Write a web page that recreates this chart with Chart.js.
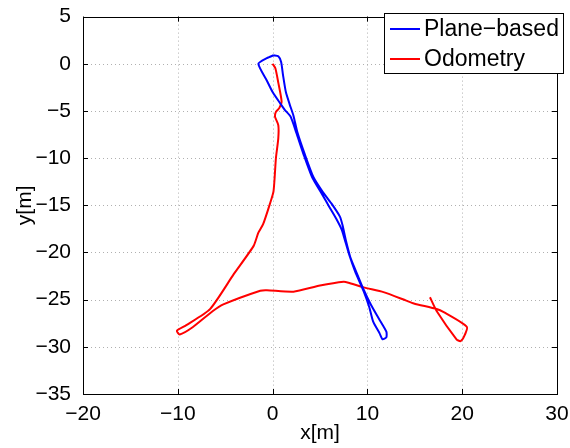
<!DOCTYPE html>
<html>
<head>
<meta charset="utf-8">
<script src="https://cdn.jsdelivr.net/npm/chart.js@4"></script>
<style>
  html, body { margin: 0; padding: 0; background: #fff; }
  canvas { display: block; }
</style>
</head>
<body>
<canvas id="chart" width="570" height="448"></canvas>
<script>
// Plane-based trajectory (blue)
const planeX = [0.1, 0.6, 0.9, 1.1, 1.4, 1.8, 2.2, 2.6, 3.4, 4.3, 5.3, 6.2, 7.1, 7.4, 7.7, 8.2, 8.8, 9.5, 10.4, 11.2, 12.0, 12.0, 11.6, 11.3, 10.6, 10.2, 9.6, 8.7, 8.1, 7.6, 7.3, 6.7, 6.0, 5.2, 4.2, 3.3, 2.5, 1.9, 1.3, 0.8, 0.0, -0.6, -1.5, -0.6, 0.1];
const planeY = [0.9, 0.8, 0.2, -1.2, -3.0, -4.3, -5.5, -7.2, -9.6, -12.0, -13.6, -14.8, -16.2, -17.2, -18.6, -20.5, -22.0, -23.7, -25.6, -27.0, -28.4, -29.0, -29.2, -28.6, -27.3, -25.8, -24.1, -22.0, -20.3, -18.6, -17.6, -16.4, -15.2, -13.8, -12.1, -9.7, -7.3, -5.6, -4.9, -4.2, -3.0, -1.8, 0.0, 0.6, 0.9];

// Odometry trajectory (red)
const odoX = [0.0, 0.3, 0.6, 0.95, 0.7, 0.35, 0.25, 0.6, 0.6, 0.35, 0.1, -0.3, -1.0, -1.5, -2.0, -4.1, -6.6, -9.1, -10.1, -9.8, -8.4, -6.3, -5.2, -1.3, -0.6, 2.2, 5.0, 7.5, 8.0, 9.6, 11.7, 14.1, 14.9, 17.3, 18.0, 20.5, 20.1, 19.8, 19.4, 17.3, 16.6];
const odoY = [0.0, -0.5, -2.0, -4.0, -4.7, -5.1, -5.6, -6.5, -7.9, -10.0, -13.5, -14.9, -17.0, -17.9, -19.3, -22.3, -26.0, -27.7, -28.3, -28.7, -27.9, -26.2, -25.5, -24.05, -24.0, -24.15, -23.5, -23.1, -23.2, -23.7, -24.2, -25.1, -25.4, -26.0, -26.3, -27.9, -29.1, -29.4, -29.2, -26.2, -24.75];

// Axis ticks
const xTicks = [-20, -10, 0, 10, 20, 30];
const yTicks = [5, 0, -5, -10, -15, -20, -25, -30, -35];

const seriesNames = ['Plane\u2212based', 'Odometry'];
const seriesColors = ['#0000ff', '#ff0000'];

const FONT = '"Liberation Sans", Arial, sans-serif';

function toPoints(xs, ys) {
    return xs.map((x, i) => ({ x: x, y: ys[i] }));
}

function fmt(v) {
    return v < 0 ? '\u2212' + Math.abs(v) : String(v);
}

// grid, box, inner tick marks, axis titles and legend, MATLAB style
const matlabFrame = {
    id: 'matlabFrame',
    beforeDatasetsDraw(chart) {
        const { ctx, chartArea: a, scales } = chart;
        ctx.save();
        ctx.strokeStyle = '#b0b0b0';
        ctx.lineWidth = 1;
        ctx.setLineDash([1, 3]);
        xTicks.forEach(v => {
            const px = Math.round(scales.x.getPixelForValue(v)) + 0.5;
            ctx.beginPath(); ctx.moveTo(px, a.top); ctx.lineTo(px, a.bottom); ctx.stroke();
        });
        yTicks.forEach(v => {
            const py = Math.round(scales.y.getPixelForValue(v)) + 0.5;
            ctx.beginPath(); ctx.moveTo(a.left, py); ctx.lineTo(a.right, py); ctx.stroke();
        });
        ctx.restore();
    },
    afterDatasetsDraw(chart) {
        const { ctx, chartArea: a, scales } = chart;
        ctx.save();
        ctx.strokeStyle = '#000';
        ctx.lineWidth = 1;
        ctx.setLineDash([]);
        ctx.strokeRect(Math.round(a.left) + 0.5, Math.round(a.top) + 0.5,
            Math.round(a.right - a.left), Math.round(a.bottom - a.top));
        const t = 5;
        ctx.beginPath();
        xTicks.forEach(v => {
            const px = Math.round(scales.x.getPixelForValue(v)) + 0.5;
            ctx.moveTo(px, a.bottom); ctx.lineTo(px, a.bottom - t);
            ctx.moveTo(px, a.top); ctx.lineTo(px, a.top + t);
        });
        yTicks.forEach(v => {
            const py = Math.round(scales.y.getPixelForValue(v)) + 0.5;
            ctx.moveTo(a.left, py); ctx.lineTo(a.left + t, py);
            ctx.moveTo(a.right, py); ctx.lineTo(a.right - t, py);
        });
        ctx.stroke();

        // axis titles
        ctx.fillStyle = '#000';
        ctx.font = '21px ' + FONT;
        ctx.textAlign = 'center';
        ctx.textBaseline = 'middle';
        ctx.fillText('x[m]', (a.left + a.right) / 2, 433);
        ctx.save();
        ctx.translate(25, (a.top + a.bottom) / 2);
        ctx.rotate(-Math.PI / 2);
        ctx.fillText('y[m]', 0, 0);
        ctx.restore();

        // legend box
        const lx = 384, ly = 13, lw = 179, lh = 60;
        ctx.fillStyle = '#fff';
        ctx.fillRect(lx, ly, lw, lh);
        ctx.strokeRect(lx + 0.5, ly + 0.5, lw, lh);
        ctx.textAlign = 'left';
        ctx.font = '23px ' + FONT;
        seriesNames.forEach((name, i) => {
            const cy = ly + 16 + i * 30;
            ctx.strokeStyle = seriesColors[i];
            ctx.lineWidth = 2;
            ctx.beginPath(); ctx.moveTo(390, cy); ctx.lineTo(420, cy); ctx.stroke();
            ctx.fillStyle = '#000';
            ctx.fillText(name, 424, cy + 1);
        });
        ctx.restore();
    }
};

new Chart(document.getElementById('chart'), {
    type: 'scatter',
    data: {
        datasets: [
            {
                label: seriesNames[0],
                data: toPoints(planeX, planeY),
                borderColor: seriesColors[0],
                backgroundColor: seriesColors[0],
                borderWidth: 2,
                showLine: true,
                pointRadius: 0,
                tension: 0.2
            },
            {
                label: seriesNames[1],
                data: toPoints(odoX, odoY),
                borderColor: seriesColors[1],
                backgroundColor: seriesColors[1],
                borderWidth: 2,
                showLine: true,
                pointRadius: 0,
                tension: 0.2
            }
        ]
    },
    options: {
        responsive: false,
        animation: false,
        layout: { padding: { left: 0, right: 13, top: 14, bottom: 0 } },
        plugins: {
            legend: { display: false },
            tooltip: { enabled: false }
        },
        scales: {
            x: {
                type: 'linear',
                min: -20,
                max: 30,
                afterBuildTicks: s => { s.ticks = xTicks.map(v => ({ value: v })); },
                afterFit: s => { s.height = 54; },
                grid: { display: false },
                border: { display: false },
                ticks: {
                    color: '#000',
                    font: { family: FONT, size: 21 },
                    padding: 0,
                    maxRotation: 0,
                    callback: v => fmt(v)
                }
            },
            y: {
                type: 'linear',
                min: -35,
                max: 5,
                afterBuildTicks: s => { s.ticks = yTicks.map(v => ({ value: v })); },
                afterFit: s => { s.width = 83; },
                grid: { display: false },
                border: { display: false },
                ticks: {
                    color: '#000',
                    font: { family: FONT, size: 21 },
                    padding: 4,
                    callback: v => fmt(v)
                }
            }
        }
    },
    plugins: [matlabFrame]
});
</script>
</body>
</html>
